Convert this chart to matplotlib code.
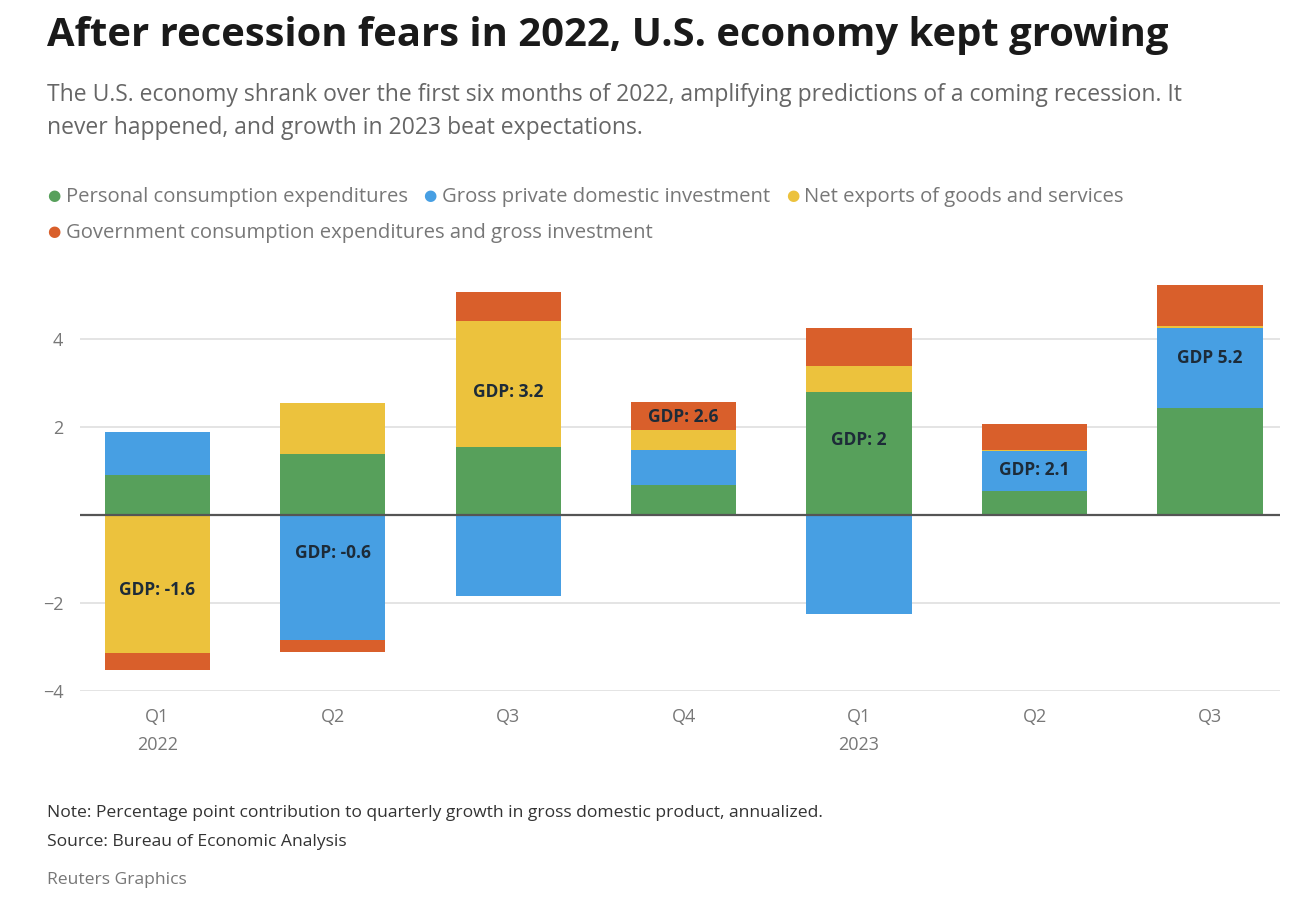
import matplotlib.pyplot as plt
import numpy as np

quarters = ["Q1\n2022", "Q2", "Q3", "Q4", "Q1\n2023", "Q2", "Q3"]
series_names = [
    "Personal consumption expenditures",
    "Gross private domestic investment",
    "Net exports of goods and services",
    "Government consumption expenditures and gross investment",
]
consumption = [0.91, 1.39, 1.55, 0.68, 2.80, 0.56, 2.45]
investment = [0.98, -2.84, -1.84, 0.80, -2.24, 0.89, 1.82]
net_exports = [-3.14, 1.16, 2.86, 0.45, 0.59, 0.04, 0.03]
government = [-0.38, -0.27, 0.66, 0.64, 0.86, 0.58, 0.93]
gdp_labels = ["GDP: -1.6", "GDP: -0.6", "GDP: 3.2", "GDP: 2.6", "GDP: 2", "GDP: 2.1", "GDP 5.2"]
label_y = [-1.70, -0.86, 2.80, 2.23, 1.70, 1.02, 3.57]

colors = ["#57a05b", "#479fe3", "#ecc23d", "#d95f2b"]
FONT = ["Open Sans", "DejaVu Sans"]
plt.rcParams["font.family"] = FONT

fig = plt.figure(figsize=(13.13, 9.02), dpi=100)
ax = fig.add_axes([0.061, 0.234, 0.914, 0.453])

x = np.arange(len(quarters))
pos_bottom = np.zeros(len(x))
neg_bottom = np.zeros(len(x))
for vals, color in zip([consumption, investment, net_exports, government], colors):
    v = np.array(vals)
    bottom = np.where(v >= 0, pos_bottom, neg_bottom)
    ax.bar(x, v, bottom=bottom, width=0.6, color=color, zorder=2, linewidth=0)
    pos_bottom += np.clip(v, 0, None)
    neg_bottom += np.clip(v, None, 0)

for xi, yi, txt in zip(x, label_y, gdp_labels):
    ax.text(xi, yi, txt, ha="center", va="center", fontsize=12.5,
            fontweight="bold", color="#1d2b38", zorder=4)

ax.axhline(0, color="#555555", lw=1.6, zorder=3)
ax.set_ylim(-4, 5.3)
ax.set_xlim(-0.44, 6.4)
ax.set_yticks([-4, -2, 2, 4])
ax.set_yticklabels(["\u22124", "\u22122", "2", "4"])
ax.set_xticks(x)
ax.set_xticklabels(quarters)
for lbl in ax.get_xticklabels():
    lbl.set_linespacing(1.75)
ax.grid(axis="y", color="#e2e2e2", lw=1.3, zorder=0)
ax.tick_params(axis="both", length=0, colors="#777777", labelsize=13)
ax.tick_params(axis="x", pad=12)
ax.tick_params(axis="y", pad=12)
for s in ax.spines.values():
    s.set_visible(False)

fig.text(0.036, 0.961, "After recession fears in 2022, U.S. economy kept growing",
         fontsize=28.8, fontweight="bold", color="#1a1a1a", va="center")
fig.text(0.036, 0.876, "The U.S. economy shrank over the first six months of 2022, amplifying predictions of a coming recession. It\nnever happened, and growth in 2023 beat expectations.",
         fontsize=16.5, color="#666666", va="center", linespacing=1.5)

# legend rows
legend_rows = [[0, 1, 2], [3]]
row_y = [0.782, 0.742]
renderer = fig.canvas.get_renderer()
for row, yy in zip(legend_rows, row_y):
    xx = 0.036
    for i in row:
        fig.text(xx, yy, "\u25cf", fontsize=11, color=colors[i], va="center")
        t = fig.text(xx + 0.014, yy, series_names[i], fontsize=14.6, color="#777777", va="center")
        bb = t.get_window_extent(renderer)
        xx = bb.x1 / fig.bbox.width + 0.012

fig.text(0.036, 0.099, "Note: Percentage point contribution to quarterly growth in gross domestic product, annualized.",
         fontsize=12.6, color="#333333", va="center")
fig.text(0.036, 0.067, "Source: Bureau of Economic Analysis", fontsize=12.6, color="#333333", va="center")
fig.text(0.036, 0.024, "Reuters Graphics", fontsize=12.6, color="#777777", va="center")

fig.savefig("out.png", dpi=100)
